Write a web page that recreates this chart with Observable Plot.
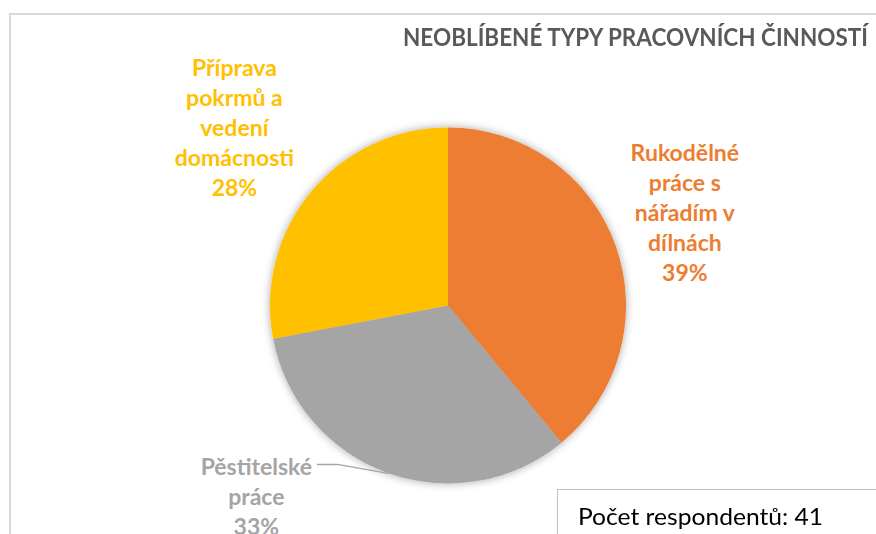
<!DOCTYPE html>
<html><head><meta charset="utf-8">
<script src="https://cdn.jsdelivr.net/npm/d3@7"></script>
<script src="https://cdn.jsdelivr.net/npm/@observablehq/plot@0.6"></script>
<style>
body{margin:0;background:#fff;}
#wrap{position:relative;width:876px;height:534px;overflow:hidden;background:#fff;}
#frame{position:absolute;left:9px;top:13px;width:1000px;height:700px;border-left:2px solid #d9d9d9;border-top:2px solid #d9d9d9;}
#title{position:absolute;left:403px;top:25px;font-family:Lato,sans-serif;font-weight:bold;font-size:24px;line-height:24px;color:#595959;white-space:nowrap;transform-origin:0 0;}
#note{position:absolute;left:557px;top:489px;width:400px;height:100px;border:1px solid #bfbfbf;background:#fff;}
#noteText{position:absolute;left:578px;top:504px;font-family:Lato,sans-serif;font-size:24px;line-height:24px;color:#000;white-space:nowrap;transform-origin:0 0;}
#chart{position:absolute;left:0;top:0;}
</style></head>
<body>
<div id="wrap">
  <div id="frame"></div>
  <div id="note"></div>
  <div id="chart"></div>
  <div id="title"></div>
  <div id="noteText"></div>
</div>
<script>
// ---- data ----
const titleText = "NEOBLÍBENÉ TYPY PRACOVNÍCH ČINNOSTÍ";
const categories = ["Rukodělné práce s nářadím v dílnách", "Pěstitelské práce", "Příprava pokrmů a vedení domácnosti"];
const labelText = ["Rukodělné\npráce s\nnářadím v\ndílnách", "Pěstitelské\npráce", "Příprava\npokrmů a\nvedení\ndomácnosti"];
const shares = [39, 33, 28];
const colors = ["#ED7D31", "#A5A5A5", "#FFC000"];
const respondents = 41;

// ---- layout ----
const W = 876, H = 534, cx = 448, cy = 305.5, R = 178;
const labelRadius = [1.43, 1.516, 1.57];
const labelShiftDeg = [-2, 25.6, 0.4];

const rows = categories.map((c, i) => ({
  category: c, share: shares[i], color: colors[i],
  label: labelText[i] + "\n" + shares[i] + "%"
}));
const arcs = d3.pie().sort(null).value(d => d.share)(rows);
rows.forEach((r, i) => {
  const a = arcs[i];
  r.start = a.startAngle; r.end = a.endAngle; r.mid = (a.startAngle + a.endAngle) / 2;
  const ang = r.mid + labelShiftDeg[i] * Math.PI / 180;
  r.lx = cx + R * labelRadius[i] * Math.sin(ang);
  r.ly = cy - R * labelRadius[i] * Math.cos(ang);
});

// leader line for the grey slice
const g = rows[1];
const leader = [
  {x: g.lx + 61, y: g.ly - 31},
  {x: g.lx + 81, y: g.ly - 31},
  {x: cx + R * Math.sin(g.mid), y: cy - R * Math.cos(g.mid)}
];

function pieMark(index, scales) {
  const root = d3.create("svg:g");
  const x0 = scales.x(cx), y0 = scales.y(cy), r = scales.x(cx + R) - x0;
  const f = root.append("defs").append("filter").attr("id", "pieShadow")
    .attr("x", "-20%").attr("y", "-20%").attr("width", "140%").attr("height", "140%");
  f.append("feDropShadow").attr("dx", 0).attr("dy", 0).attr("stdDeviation", 4)
    .attr("flood-color", "#000").attr("flood-opacity", 0.35);
  const arc = d3.arc().innerRadius(0).outerRadius(r);
  root.append("g").attr("transform", `translate(${x0},${y0})`).attr("filter", "url(#pieShadow)")
    .selectAll("path").data(rows).join("path")
    .attr("d", d => arc({startAngle: d.start, endAngle: d.end}))
    .attr("fill", d => d.color);
  return root.node();
}

const chart = Plot.plot({
  width: W, height: H,
  margin: 0,
  x: {domain: [0, W], range: [0, W], axis: null},
  y: {domain: [0, H], range: [0, H], axis: null},
  color: {type: "identity"},
  style: {background: "transparent", overflow: "visible"},
  marks: [
    pieMark,
    Plot.line(leader, {x: "x", y: "y", stroke: "#A5A5A5", strokeWidth: 1.3}),
    Plot.text(rows, {
      x: "lx", y: "ly", text: "label", fill: "color",
      fontSize: 23, fontWeight: "bold", lineHeight: 1.3, fontFamily: "Lato"
    })
  ]
});
document.getElementById("chart").appendChild(chart);

const t = document.getElementById("title");
t.textContent = titleText;
const nt = document.getElementById("noteText");
nt.textContent = "Počet respondentů: " + respondents;
function fitWidth(el, target) {
  const w = el.getBoundingClientRect().width;
  el.style.transform = `scaleX(${target / w})`;
}
fitWidth(t, 465);
fitWidth(nt, 245);
</script>
</body></html>
